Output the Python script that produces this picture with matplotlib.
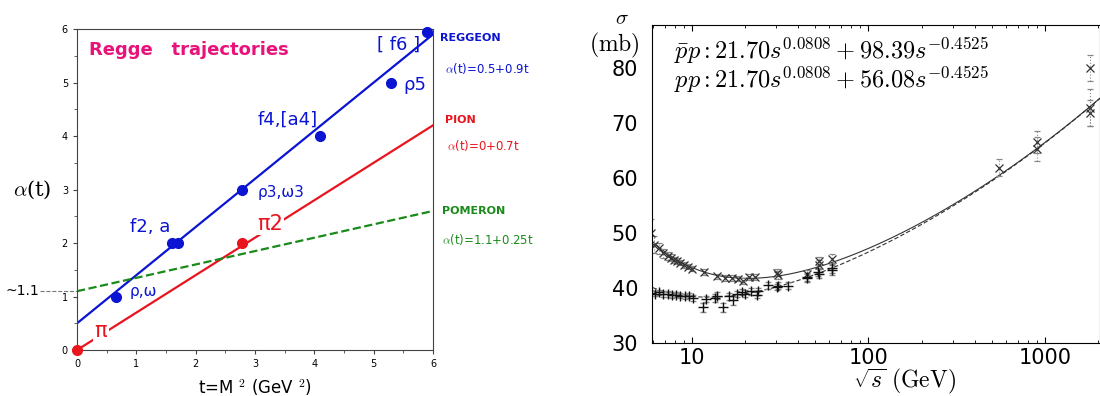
import matplotlib.pyplot as plt
import numpy as np

plt.rcParams['mathtext.fontset'] = 'cm'

# ---- left panel: Regge trajectories ----
reggeon_t = [0.65, 1.6, 1.7, 2.78, 4.1, 5.3, 5.9]
reggeon_a = [1, 2, 2, 3, 4, 5, 5.95]
pion_t = [0.0, 2.78]
pion_a = [0, 2]

# intercept, slope
reggeon_fit = (0.5, 0.9)
pion_fit = (0.0, 0.7)
pomeron_fit = (1.1, 0.25)

# ---- right panel: total cross sections ----
ppbar_rs = [5.9, 6.1, 6.5, 6.9, 7.3, 7.6, 7.9, 8.2, 8.6, 9.0, 9.5, 10.0, 11.7, 13.8,
            15.3, 16.8, 18.2, 19.4, 21.1, 22.7, 30.4, 30.6, 44.7, 52.2, 52.8, 62.3,
            546, 900, 900, 1800, 1800, 1800]
ppbar_sig = [50.0, 47.9, 47.2, 46.3, 45.8, 45.5, 45.1, 44.9, 44.6, 44.2, 43.9, 43.5, 42.9, 42.1,
             41.8, 41.8, 41.7, 41.3, 42.0, 42.0, 42.8, 42.3, 42.5, 44.9, 44.2, 45.2,
             61.9, 65.3, 66.5, 80.0, 72.8, 71.8]
ppbar_err = [2.5, 1.5, 1.0, 0.8, 0.7, 0.6, 0.6, 0.6, 0.5, 0.5, 0.5, 0.5, 0.5, 0.5,
             0.5, 0.5, 0.5, 0.6, 0.6, 0.6, 0.7, 0.7, 0.7, 0.8, 0.8, 0.9,
             1.5, 2.2, 2.0, 2.3, 3.3, 2.3]

pp_rs = [5.9, 6.2, 6.5, 6.9, 7.3, 7.7, 8.1, 8.6, 9.1, 9.6, 10.2, 11.5, 12.0, 13.5, 13.8, 15.0,
         16.2, 17.0, 18.0, 19.2, 20.0, 21.5, 23.3, 23.6, 27.0, 30.2, 30.7, 34.9, 44.6, 44.8,
         51.6, 52.8, 61.8, 62.5]
pp_sig = [39.1, 39.0, 39.2, 38.9, 38.9, 38.7, 38.8, 38.6, 38.5, 38.6, 38.2, 36.5, 38.0, 38.2, 38.6, 36.5,
          38.5, 37.8, 38.9, 39.3, 39.0, 39.4, 38.7, 39.4, 40.5, 40.2, 40.4, 40.4, 42.0, 41.8,
          42.9, 42.6, 43.3, 43.6]
pp_err = [0.6, 0.5, 0.5, 0.5, 0.5, 0.5, 0.5, 0.5, 0.5, 0.5, 0.6, 0.8, 0.6, 0.7, 0.6, 0.8,
          0.6, 0.8, 0.6, 0.6, 0.6, 0.6, 0.6, 0.6, 0.6, 0.6, 0.6, 0.6, 0.7, 0.7,
          0.8, 0.8, 0.9, 0.9]

# sigma = a s^eps + b s^-eta
fit_a, fit_eps, fit_eta = 21.70, 0.0808, 0.4525
b_ppbar, b_pp = 98.39, 56.08

fig = plt.figure(figsize=(11, 3.96), dpi=100)

# left
ax = fig.add_axes([0.07, 0.116, 0.3236, 0.8106])
t = np.linspace(0, 6, 50)
ax.plot(t, reggeon_fit[0] + reggeon_fit[1] * t, color='#0a14d2', lw=1.6, zorder=2)
ax.plot(t, pion_fit[0] + pion_fit[1] * t, color='#e8141e', lw=1.6, zorder=2)
ax.plot(t, pomeron_fit[0] + pomeron_fit[1] * t, color='#1a8a1a', lw=1.6, ls='--', zorder=2)
ax.plot(reggeon_t, reggeon_a, 'o', color='#0a14d2', ms=7, zorder=4, clip_on=False)
ax.plot(pion_t, pion_a, 'o', color='#e8141e', ms=7, zorder=4, clip_on=False)
ax.set_xlim(0, 6)
ax.set_ylim(0, 6)
ax.set_xticks(range(7))
ax.set_yticks(range(7))
ax.set_xticks(np.arange(0.5, 6, 1), minor=True)
ax.set_yticks(np.arange(0.5, 6, 1), minor=True)
ax.tick_params(labelsize=7, length=3, width=0.8, color='#444444')
ax.tick_params(which='minor', length=2, color='#444444')
for s in ax.spines.values():
    s.set_color('#444444')

blue = '#0a14d2'
red = '#e8141e'
green = '#1a8a1a'
ax.text(0.2, 5.6, 'Regge   trajectories', color='#e8127a', fontsize=13, fontweight='bold', va='center')
ax.text(0.88, 1.1, 'ρ,ω', color=blue, fontsize=11, va='center')
ax.text(0.9, 2.3, 'f2, a', color=blue, fontsize=13, va='center')
ax.text(3.05, 2.95, 'ρ3,ω3', color=blue, fontsize=11, va='center')
ax.text(3.05, 4.3, 'f4,[a4]', color=blue, fontsize=13, va='center')
ax.text(5.5, 4.95, 'ρ5', color=blue, fontsize=13, va='center')
ax.text(5.05, 5.7, '[ f6 ]', color=blue, fontsize=13, va='center')
ax.text(0.4, 0.36, 'π', color=red, fontsize=15, va='center', ha='center', zorder=3,
        bbox=dict(fc='white', ec='none', pad=1))
ax.text(3.25, 2.36, 'π2', color=red, fontsize=15, va='center', ha='center', zorder=3,
        bbox=dict(fc='white', ec='none', pad=1))

ax.text(6.12, 5.83, 'REGGEON', color=blue, fontsize=8, fontweight='bold', va='center')
ax.text(6.2, 5.27, r'$\alpha$(t)=0.5+0.9t', color=blue, fontsize=8.5, va='center')
ax.text(6.2, 4.3, 'PION', color=red, fontsize=8, fontweight='bold', va='center')
ax.text(6.24, 3.83, r'$\alpha$(t)=0+0.7t', color=red, fontsize=8.5, va='center')
ax.text(6.16, 2.6, 'POMERON', color=green, fontsize=8, fontweight='bold', va='center')
ax.text(6.16, 2.06, r'$\alpha$(t)=1.1+0.25t', color=green, fontsize=8.5, va='center')

ax.plot([-0.62, 0], [1.1, 1.1], ls='--', color='#777777', lw=0.8, clip_on=False)
ax.text(-0.64, 1.1, '~1.1', fontsize=10, ha='right', va='center')
ax.text(-0.75, 3.0, r'$\alpha$(t)', fontsize=15, ha='center', va='center', family='DejaVu Serif')
ax.set_xlabel(r't=M $^2$ (GeV $^2$)', fontsize=12, labelpad=6)

# right
ax2 = fig.add_axes([0.5927, 0.1338, 0.4073, 0.803])
rs = np.logspace(np.log10(6), np.log10(2050), 200)
s = rs ** 2
ax2.plot(rs, fit_a * s ** fit_eps + b_ppbar * s ** -fit_eta, color='#333333', lw=0.8)
ax2.plot(rs, fit_a * s ** fit_eps + b_pp * s ** -fit_eta, color='#333333', lw=0.8, ls=(0, (4, 2)))
eb = ax2.errorbar(ppbar_rs, ppbar_sig, yerr=ppbar_err, fmt='x', color='#333333', ms=6, mew=0.9,
                  ecolor='#888888', elinewidth=0.8, capsize=2, capthick=0.6)
eb[2][0].set_linestyle(':')
eb2 = ax2.errorbar(pp_rs, pp_sig, yerr=pp_err, fmt='+', color='#111111', ms=7, mew=1.0,
                   ecolor='#888888', elinewidth=0.8, capsize=2, capthick=0.6)
eb2[2][0].set_linestyle(':')
ax2.set_xscale('log')
ax2.set_xlim(5.94, 2050)
ax2.set_ylim(30, 87.8)
ax2.set_yticks([30, 40, 50, 60, 70, 80])
ax2.set_xticks([10, 100, 1000])
ax2.set_xticklabels(['10', '100', '1000'])
ax2.tick_params(axis='both', labelsize=15, direction='in', top=True, length=4)
ax2.tick_params(axis='x', which='minor', direction='in', top=True, length=2.5)
ax2.tick_params(axis='y', length=0, pad=10)
ax2.text(0.05, 0.918, r'$\bar{p}p: 21.70s^{0.0808} + 98.39s^{-0.4525}$', transform=ax2.transAxes,
         fontsize=17.5, va='center')
ax2.text(0.05, 0.828, r'$pp: 21.70s^{0.0808} + 56.08s^{-0.4525}$', transform=ax2.transAxes,
         fontsize=17.5, va='center')
fig.text(905 / 1100, 1 - 381 / 396, r'$\sqrt{s}\ (\mathrm{GeV})$', fontsize=17, ha='center', va='center')
fig.text(0.565, 0.955, r'$\sigma$', fontsize=15, ha='center', va='center')
fig.text(0.559, 0.885, r'$(\mathrm{mb})$', fontsize=17, ha='center', va='center')

fig.savefig('out.png', dpi=100)
